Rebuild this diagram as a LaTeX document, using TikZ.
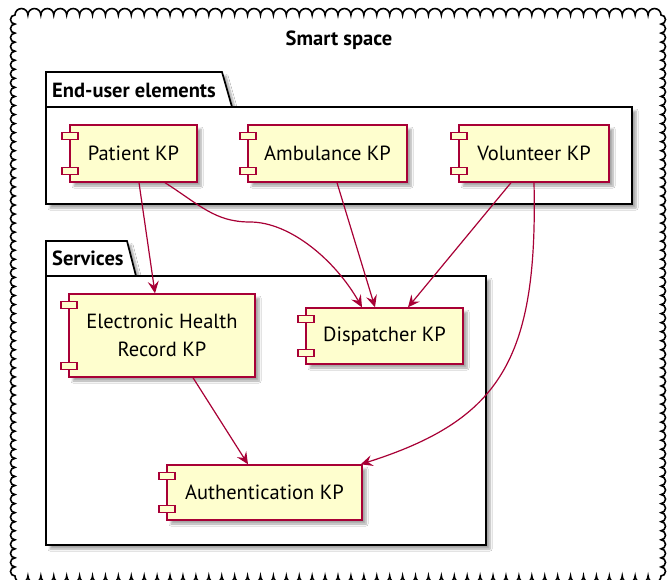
\documentclass[tikz,border=0pt]{standalone}
\usepackage{fontspec}
\setmainfont{PT Sans}
\usetikzlibrary{arrows.meta,shadows.blur}
\definecolor{kpborder}{HTML}{A80036}
\definecolor{kpfill}{HTML}{FEFECE}
\tikzset{
  kp/.style={draw=kpborder, fill=kpfill, line width=1.4pt, inner sep=0pt, align=center,
    font=\fontsize{20.5}{28}\selectfont,
    blur shadow={shadow xshift=4pt, shadow yshift=-4pt, shadow blur steps=6, shadow opacity=35}},
  kpmark/.style={draw=kpborder, fill=kpfill, line width=1.4pt},
  pkg/.style={draw=black, fill=white, line width=1.7pt,
    blur shadow={shadow xshift=4pt, shadow yshift=-4pt, shadow blur steps=6, shadow opacity=35}},
  pkgline/.style={draw=black, line width=1.7pt},
  cloudline/.style={draw=black, fill=white, line width=1.6pt},
  pkglabel/.style={font=\bfseries\fontsize{20.5}{24}\selectfont, anchor=west, inner sep=0pt},
  titlelabel/.style={font=\bfseries\fontsize{20.5}{24}\selectfont, inner sep=0pt},
  link/.style={draw=kpborder, line width=1.2pt, -{Stealth[length=12pt,width=11pt,inset=4.5pt]}},
}
\newcommand\kpmarks[1]{%
  \draw[kpmark] ([xshift=-7.5pt,yshift=-8pt]#1.north west) rectangle ++(16,7);
  \draw[kpmark] ([xshift=-7.5pt,yshift=8pt]#1.south west) rectangle ++(16,-7);
}
\begin{document}
\begin{tikzpicture}[x=1pt,y=-1pt]
\useasboundingbox (0,0) rectangle (669,579);
% cloud
\draw[cloudline] (15,15)
  foreach \i in {1,...,50}{ arc[start angle=180,end angle=0,radius=6.46pt] }
  foreach \i in {1,...,62}{ arc[start angle=90,end angle=-90,radius=4.524pt] }
  foreach \i in {1,...,50}{ arc[start angle=0,end angle=-180,radius=6.46pt] }
  foreach \i in {1,...,62}{ arc[start angle=270,end angle=90,radius=4.524pt] }
  -- cycle;
\node[titlelabel] (title) at (339,40) {Smart space};
% packages
\draw[pkg] (46,72) -- (222,72) -- (232,107) -- (632,107) -- (632,204) -- (46,204) -- cycle;
\draw[pkgline] (46,107) -- (232,107);
\node[pkglabel] (eul) at (52,90) {End-user elements};
\draw[pkg] (46,241) -- (127,241) -- (136,276) -- (486,276) -- (486,545) -- (46,545) -- cycle;
\draw[pkgline] (46,276) -- (136,276);
\node[pkglabel] (svl) at (52,258) {Services};
% components
\node[kp, minimum width=127pt, minimum height=57pt] (p) at (133.5,153.5) {Patient KP};
\node[kp, minimum width=159pt, minimum height=57pt] (amb) at (327.5,153.5) {Ambulance KP};
\node[kp, minimum width=150pt, minimum height=57pt] (vol) at (534,153.5) {Volunteer KP};
\node[kp, minimum width=186pt, minimum height=83pt] (ehr) at (162,335.5) {Electronic Health\\Record KP};
\node[kp, minimum width=157pt, minimum height=56pt] (disp) at (384.5,336) {Dispatcher KP};
\node[kp, minimum width=195pt, minimum height=55pt] (auth) at (264.5,492.5) {Authentication KP};
\kpmarks{p}\kpmarks{amb}\kpmarks{vol}\kpmarks{ehr}\kpmarks{disp}\kpmarks{auth}
% links
\draw[link] ([xshift=5.5pt]p.south) -- ([xshift=-7pt]ehr.north);
\coordinate (pmid) at (250,222);
\draw[link] ([xshift=31.5pt]p.south) .. controls (200,205) and (215,222) .. (pmid)
  .. controls (290,222) and (335,260) .. ([xshift=-22.5pt]disp.north);
\draw[link] ([xshift=9.5pt]amb.south) -- ([xshift=-9.5pt]disp.north);
\draw[link] ([xshift=-23pt]vol.south) -- ([xshift=23.5pt]disp.north);
\draw[link] (vol.south) .. controls (538,360) and (500,420) .. ([xshift=-2pt]auth.north east);
\draw[link] ([xshift=31pt]ehr.south) -- ([xshift=-16.5pt]auth.north);
\end{tikzpicture}
\end{document}
